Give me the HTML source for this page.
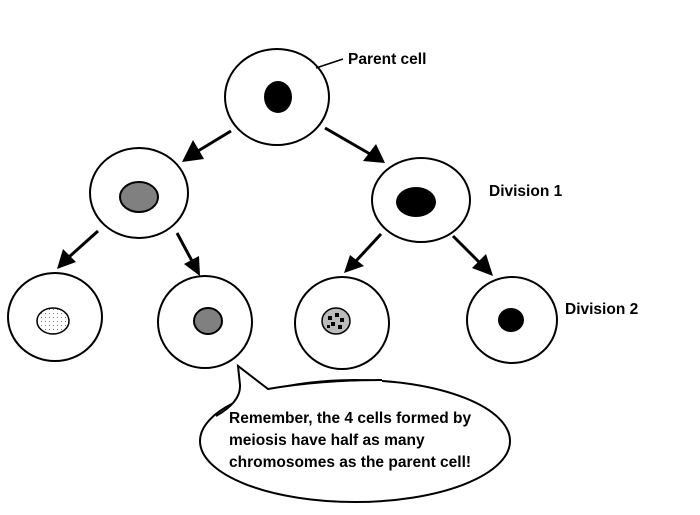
<!DOCTYPE html>
<html><head><style>
html,body{margin:0;padding:0;background:#fff}
svg text{font-family:"Liberation Sans",sans-serif;font-size:15.5px;font-weight:bold;fill:#000}
</style></head><body>
<svg width="700" height="510" viewBox="0 0 700 510" xmlns="http://www.w3.org/2000/svg">
<defs>
<pattern id="dots" width="4" height="4" patternUnits="userSpaceOnUse"><rect width="4" height="4" fill="#fff"/><rect x="1" y="1" width="1" height="1" fill="#777"/></pattern>
</defs>
<g fill="none" stroke="#000" stroke-width="2">
<ellipse cx="277" cy="97" rx="52" ry="48" fill="#fff"/>
<ellipse cx="139" cy="193" rx="49" ry="45"/>
<ellipse cx="421" cy="200" rx="49" ry="42"/>
<ellipse cx="55" cy="317" rx="47" ry="44"/>
<ellipse cx="205" cy="322" rx="47" ry="46"/>
<ellipse cx="342" cy="323" rx="47" ry="46"/>
<ellipse cx="512" cy="320" rx="45" ry="43"/>
<ellipse cx="355" cy="441" rx="155" ry="61" fill="#fff"/>
<line x1="316" y1="68" x2="343" y2="59" stroke-width="1.5"/>
<line x1="231" y1="131" x2="198" y2="151" stroke-width="3"/>
<line x1="325" y1="128" x2="370" y2="154" stroke-width="3"/>
<line x1="98" y1="231" x2="69" y2="257" stroke-width="3"/>
<line x1="177" y1="233" x2="192" y2="261" stroke-width="3"/>
<line x1="381" y1="234" x2="356" y2="261" stroke-width="3"/>
<line x1="453" y1="236" x2="480" y2="263" stroke-width="3"/>
</g>
<g fill="#000">
<polygon points="182,162 193,140 204,159"/>
<polygon points="385,163 363,161 376,144"/>
<polygon points="57,269 63,249 76,262"/>
<polygon points="200,276 184,264 199,256"/>
<polygon points="344,273 350,255 364,266"/>
<polygon points="493,276 472,268 486,254"/>
</g>
<path d="M215,418 Q241,402 240,385 L238,366 L268,389 Q320,380 382,380 L382,395 L215,430 Z" fill="#fff" stroke="none"/>
<path d="M216,416 Q241,402 240,385 L238,366 L268,389 Q320,380 382,380" fill="none" stroke="#000" stroke-width="2"/>
<ellipse cx="278" cy="97" rx="14" ry="16" fill="#000"/>
<ellipse cx="139" cy="197" rx="19" ry="15" fill="#808080" stroke="#000" stroke-width="2"/>
<ellipse cx="416" cy="202" rx="20" ry="15" fill="#000"/>
<ellipse cx="53" cy="321" rx="16" ry="13" fill="url(#dots)" stroke="#000" stroke-width="1.5"/>
<ellipse cx="208" cy="321" rx="14" ry="13" fill="#808080" stroke="#000" stroke-width="2"/>
<ellipse cx="336" cy="321" rx="14" ry="13" fill="#bbb" stroke="#000" stroke-width="1.5"/>
<g fill="#000"><rect x="328" y="316" width="4" height="4"/><rect x="335" y="313" width="4" height="4"/><rect x="340" y="318" width="4" height="4"/><rect x="331" y="322" width="4" height="4"/><rect x="338" y="325" width="4" height="4"/><rect x="327" y="325" width="3" height="3"/></g>
<ellipse cx="511" cy="320" rx="13" ry="12" fill="#000"/>
<text x="348" y="64">Parent cell</text>
<text x="489" y="196">Division 1</text>
<text x="565" y="314">Division 2</text>
<text x="229" y="423">Remember, the 4 cells formed by</text>
<text x="229" y="445">meiosis have half as many</text>
<text x="229" y="467">chromosomes as the parent cell!</text>
</svg>
</body></html>
